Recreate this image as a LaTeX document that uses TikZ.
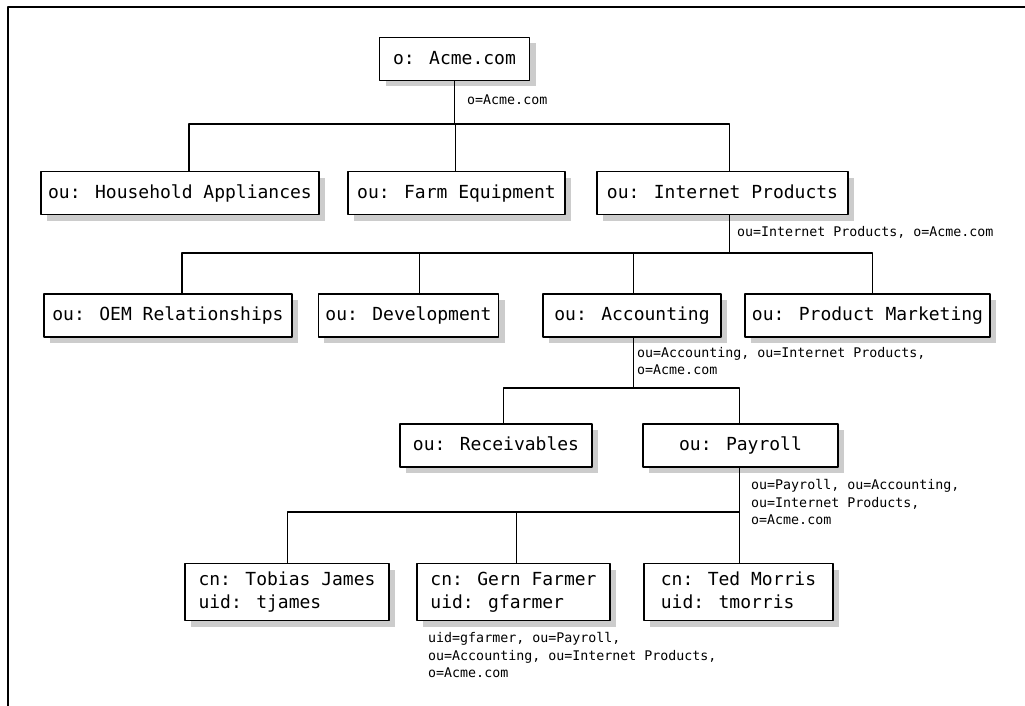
\documentclass[tikz,border=0pt]{standalone}
\usepackage{fontspec}
\newfontfamily\dirfont{DejaVu Sans Mono}
\usetikzlibrary{shadows}
\tikzset{
  entry/.style={draw, line width=1.8pt, fill=white, inner xsep=7pt, inner ysep=4pt,
    minimum height=43pt, align=left, text depth=3pt, font={\dirfont\fontsize{18}{23}\selectfont},
    drop shadow={shadow xshift=6pt, shadow yshift=-6pt, fill=black!20, opacity=1}},
  dn/.style={anchor=base west, inner sep=0pt, align=left,
    font={\dirfont\fontsize{13.3}{17.5}\selectfont}},
  link/.style={line width=1.5pt}
}
\begin{document}
\begin{tikzpicture}[x=1pt, y=-1pt, line join=round, line cap=round]
\useasboundingbox (0,0) rectangle (1025,706);
\draw[line width=1.3pt] (8,706) -- (8,7) -- (1025,7);

\coordinate (bus0) at (0,124);
\coordinate (bus1) at (0,253);
\coordinate (bus2) at (0,388);
\coordinate (bus3) at (0,512);

\node[entry, minimum width=150pt] (acme) at (454.5,59) {o: Acme.com};

\node[entry, minimum width=276pt] (house) at (180,193) {ou: Household Appliances};
\node[entry, minimum width=217pt] (farm) at (456.5,193) {ou: Farm Equipment};
\node[entry, minimum width=251pt] (inet) at (722.5,193) {ou: Internet Products};

\node[entry, minimum width=248pt] (oem) at (168,315.5) {ou: OEM Relationships};
\node[entry, minimum width=177pt] (dev) at (408.5,315.5) {ou: Development};
\node[entry, minimum width=178pt] (acct) at (632,315.5) {ou: Accounting};
\node[entry, minimum width=245pt] (pmkt) at (867.5,315.5) {ou: Product Marketing};

\node[entry, minimum width=192pt] (recv) at (496,445.5) {ou: Receivables};
\node[entry, minimum width=195pt] (payr) at (740.5,445.5) {ou: Payroll};

\node[entry, minimum width=204pt, minimum height=57pt] (tjam) at (287,592) {cn: Tobias James\\uid: tjames};
\node[entry, minimum width=193pt, minimum height=57pt] (gfar) at (513.5,592) {cn: Gern Farmer\\uid: gfarmer};
\node[entry, minimum width=189pt, minimum height=57pt] (tmor) at (738.5,592) {cn: Ted Morris\\uid: tmorris};

\draw[link] (acme.south) -- (acme.south |- bus0);
\draw[link] ([xshift=9pt]house.north) |- ([xshift=7pt]inet.north |- bus0) -- ([xshift=7pt]inet.north);
\draw[link] ([xshift=-1pt]farm.north) -- ([xshift=-1pt]farm.north |- bus0);

\draw[link] ([xshift=7pt]inet.south) -- ([xshift=7pt]inet.south |- bus1);
\draw[link] ([xshift=14pt]oem.north) |- ([xshift=5pt]pmkt.north |- bus1) -- ([xshift=5pt]pmkt.north);
\draw[link] ([xshift=11pt]dev.north) -- ([xshift=11pt]dev.north |- bus1);
\draw[link] ([xshift=1.5pt]acct.north) -- ([xshift=1.5pt]acct.north |- bus1);

\draw[link] ([xshift=1.5pt]acct.south) -- ([xshift=1.5pt]acct.south |- bus2);
\draw[link] ([xshift=7.5pt]recv.north) |- ([xshift=-1pt]payr.north |- bus2) -- ([xshift=-1pt]payr.north);

\draw[link] ([xshift=-1pt]payr.south) -- ([xshift=-1pt]payr.south |- bus3);
\draw[link] ([xshift=0.5pt]tjam.north) |- ([xshift=1pt]tmor.north |- bus3) -- ([xshift=1pt]tmor.north);
\draw[link] ([xshift=3pt]gfar.north) -- ([xshift=3pt]gfar.north |- bus3);

\node[dn] (dnacme) at (467,104.5) {o=Acme.com};
\node[dn] (dninet) at (737,236.5) {ou=Internet Products, o=Acme.com};
\node[dn] (dnacct) at (637,374.5) {ou=Accounting, ou=Internet Products,\\o=Acme.com};
\node[dn] (dnpayr) at (751,524.5) {ou=Payroll, ou=Accounting,\\ou=Internet Products,\\o=Acme.com};
\node[dn] (dngfar) at (428,677.5) {uid=gfarmer, ou=Payroll,\\ou=Accounting, ou=Internet Products,\\o=Acme.com};
\end{tikzpicture}
\end{document}
